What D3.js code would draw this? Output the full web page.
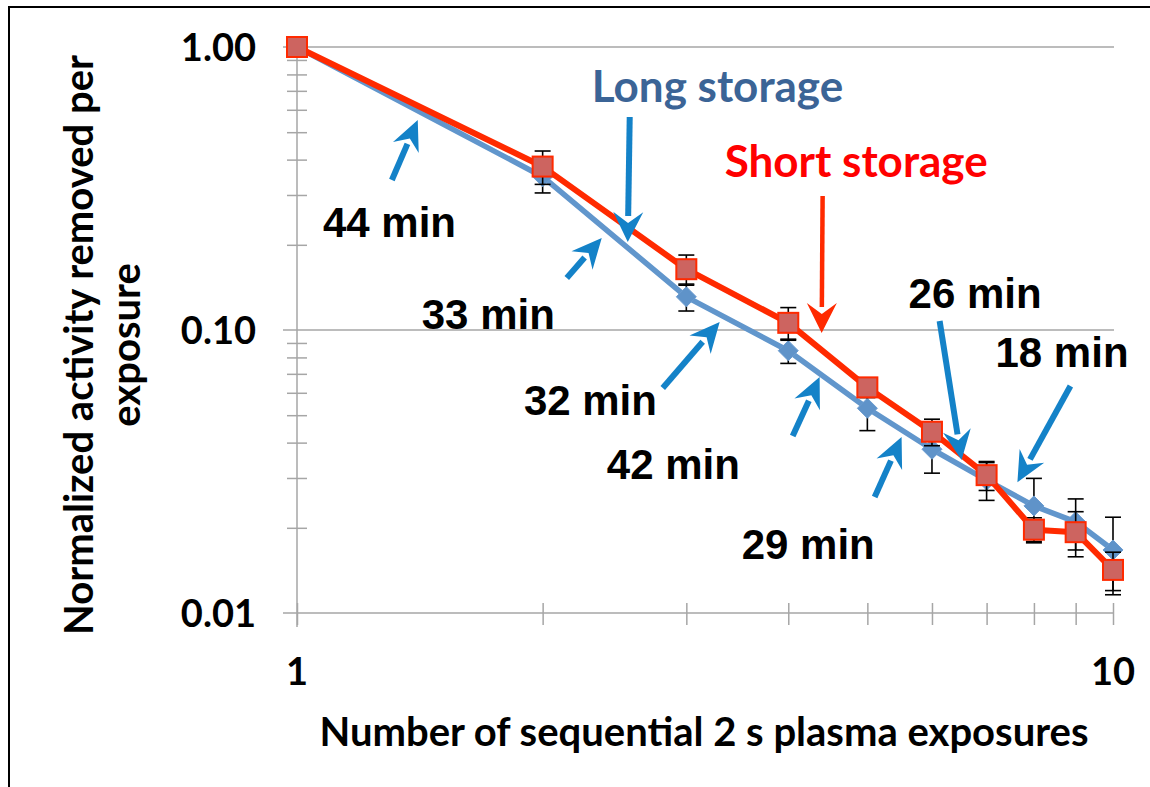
<!DOCTYPE html>
<html>
<head>
<meta charset="utf-8">
<script src="https://cdn.jsdelivr.net/npm/d3@7"></script>
<style>
  html, body { margin: 0; padding: 0; background: #fff; }
  svg { display: block; }
  .tick-lbl, .axis-title { font-family: Lato, "Open Sans", sans-serif; font-weight: 700; fill: #000; }
  .note { font-family: "Liberation Sans", Arial, sans-serif; font-weight: 700; font-size: 42px; fill: #000; }
  .series-lbl { font-family: Lato, "Open Sans", sans-serif; font-weight: 700; font-size: 44px; }
</style>
</head>
<body>
<div id="chart"></div>
<script>
// data
const exposures = [1, 2, 3, 4, 5, 6, 7, 8, 9, 10];
const shortStorage = [1.00, 0.378, 0.164, 0.106, 0.0627, 0.0437, 0.0307, 0.0197, 0.0193, 0.0142];
const shortErr = [0, 0.051, 0.020, 0.014, 0.005, 0.0047, 0.0036, 0.0020, 0.0035, 0.0022];
const longStorage = [1.00, 0.348, 0.131, 0.0845, 0.0529, 0.0379, 0.0295, 0.0239, 0.0210, 0.0167];
const longErr = [0, 0.043, 0.0143, 0.0083, 0.0088, 0.0067, 0.0045, 0.0060, 0.0043, 0.0051];

const yTickLabels = [[1, "1.00"], [0.1, "0.10"], [0.01, "0.01"]];
const xTickLabels = [[1, "1"], [10, "10"]];

// storage-time notes: arrow tail, arrow head, label anchor (data units)
const notes = [
  { text: "44 min", tail: [1.307, 0.339], head: [1.406, 0.552], at: [1.076, 0.213] },
  { text: "33 min", tail: [2.141, 0.1527], head: [2.363, 0.2114], at: [1.422, 0.1008] },
  { text: "32 min", tail: [2.807, 0.0624], head: [3.296, 0.1067], at: [1.897, 0.0501] },
  { text: "42 min", tail: [4.050, 0.0422], head: [4.370, 0.0682], at: [2.397, 0.02976] },
  { text: "29 min", tail: [5.104, 0.0257], head: [5.507, 0.0419], at: [3.507, 0.01551] },
  { text: "26 min", tail: [6.131, 0.1076], head: [6.523, 0.0347], at: [5.616, 0.1196] },
  { text: "18 min", tail: [8.868, 0.0634], head: [7.636, 0.0290], at: [7.178, 0.074] }
];
const seriesNotes = [
  { text: "Long storage", color: "#3b6496", arrow: "#1482c8", tail: [2.557, 0.566], head: [2.543, 0.2046], at: [2.298, 0.639] },
  { text: "Short storage", color: "#ff0000", arrow: "#ff2a00", tail: [4.407, 0.2976], head: [4.395, 0.0976], at: [3.343, 0.347] }
];

const W = 1150, H = 787;
const svg = d3.select("#chart").append("svg").attr("width", W).attr("height", H);

const x = d3.scaleLog().domain([1, 10]).range([297, 1113]);
const y = d3.scaleLog().domain([0.01, 1]).range([613, 47]);

// outer frame (runs off right and bottom)
svg.append("path").attr("d", `M9,${H + 5}V7H${W + 5}`)
  .attr("fill", "none").attr("stroke", "#000").attr("stroke-width", 2);

// gridlines
svg.append("g").selectAll("line").data([1, 0.1]).join("line")
  .attr("x1", 283).attr("x2", x(10) + 1)
  .attr("y1", d => y(d)).attr("y2", d => y(d))
  .attr("stroke", "#a6a6a6").attr("stroke-width", 1.5);

// x axis, ticks cross the line
const xAxis = svg.append("g").attr("transform", `translate(0,${y(0.01)})`)
  .call(d3.axisBottom(x).tickValues(exposures).tickSize(12).tickFormat(""));
xAxis.select(".domain").attr("stroke", "#a6a6a6").attr("stroke-width", 1.5).attr("d", `M283,0H${x(10)}`);
xAxis.selectAll(".tick line").attr("y1", -10).attr("stroke", "#a6a6a6").attr("stroke-width", 1.5);

// y axis
const yMinor = [];
[0.01, 0.1].forEach(b => { for (let k = 2; k <= 9; k++) yMinor.push(b * k); });
const yAxis = svg.append("g").attr("transform", `translate(${x(1)},0)`)
  .call(d3.axisLeft(y).tickValues(yMinor).tickSize(10).tickFormat(""));
yAxis.select(".domain").attr("stroke", "#a6a6a6").attr("stroke-width", 1.5).attr("d", `M0,${y(1)}V${y(0.01) + 14}`);
yAxis.selectAll(".tick line").attr("x1", 10).attr("stroke", "#a6a6a6").attr("stroke-width", 1.5);

svg.append("g").selectAll("text").data(yTickLabels).join("text")
  .attr("class", "tick-lbl").attr("font-size", 38)
  .attr("x", 256).attr("y", d => y(d[0])).attr("dy", "0.36em")
  .attr("text-anchor", "end").text(d => d[1]);

svg.append("g").selectAll("text").data(xTickLabels).join("text")
  .attr("class", "tick-lbl").attr("font-size", 38)
  .attr("x", d => x(d[0])).attr("y", 685)
  .attr("text-anchor", "middle").text(d => d[1]);

// axis titles
svg.append("text").attr("class", "axis-title").attr("font-size", 40)
  .attr("x", 704).attr("y", 746).attr("text-anchor", "middle")
  .text("Number of sequential 2 s plasma exposures");

const yTitle = svg.append("text").attr("class", "axis-title").attr("font-size", 40)
  .attr("transform", "translate(93,345) rotate(-90)").attr("text-anchor", "middle");
yTitle.append("tspan").attr("x", 0).attr("y", 0).text("Normalized activity removed per");
yTitle.append("tspan").attr("x", 0).attr("y", 47).text("exposure");

// series
function drawSeries(vals, errs, color, lineW) {
  const pts = exposures.map((e, i) => ({ e, v: vals[i], err: errs[i] }));
  const g = svg.append("g");
  const eb = g.append("g").attr("stroke", "#000").attr("stroke-width", 1.6);
  pts.filter(d => d.err > 0).forEach(d => {
    const cx = x(d.e), t = y(d.v + d.err), b = y(d.v - d.err);
    eb.append("line").attr("x1", cx).attr("x2", cx).attr("y1", t).attr("y2", b);
    eb.append("line").attr("x1", cx - 8).attr("x2", cx + 8).attr("y1", t).attr("y2", t);
    eb.append("line").attr("x1", cx - 8).attr("x2", cx + 8).attr("y1", b).attr("y2", b);
  });
  g.append("path").datum(pts)
    .attr("fill", "none").attr("stroke", color).attr("stroke-width", lineW)
    .attr("stroke-linejoin", "round")
    .attr("d", d3.line().x(d => x(d.e)).y(d => y(d.v)));
  return { g, pts };
}

const longS = drawSeries(longStorage, longErr, "#6196cc", 5.5);
longS.g.append("g").selectAll("path").data(longS.pts).join("path")
  .attr("transform", d => `translate(${x(d.e)},${y(d.v)})`)
  .attr("d", "M0,-10L10,0L0,10L-10,0Z")
  .attr("fill", "#5f93c9").attr("stroke", "#6a9bd0").attr("stroke-width", 1);

const shortS = drawSeries(shortStorage, shortErr, "#ff2a00", 6);
shortS.g.append("g").selectAll("rect").data(shortS.pts).join("rect")
  .attr("x", d => x(d.e) - 10).attr("y", d => y(d.v) - 10)
  .attr("width", 20).attr("height", 20)
  .attr("fill", "#cd6460").attr("stroke", "#ff2a00").attr("stroke-width", 2);

// arrows
function arrow(tail, head, color, w, len, half, notch) {
  const x0 = x(tail[0]), y0 = y(tail[1]), x1 = x(head[0]), y1 = y(head[1]);
  const a = Math.atan2(y1 - y0, x1 - x0), c = Math.cos(a), s = Math.sin(a);
  const g = svg.append("g");
  g.append("line").attr("x1", x0).attr("y1", y0)
    .attr("x2", x1 - c * (len - 4)).attr("y2", y1 - s * (len - 4))
    .attr("stroke", color).attr("stroke-width", w);
  const p = [
    [x1, y1],
    [x1 - c * len - s * half, y1 - s * len + c * half],
    [x1 - c * (len - notch), y1 - s * (len - notch)],
    [x1 - c * len + s * half, y1 - s * len - c * half]
  ];
  g.append("path").attr("d", "M" + p.map(q => q.join(",")).join("L") + "Z").attr("fill", color);
}

notes.forEach(n => {
  arrow(n.tail, n.head, "#1482c8", 6, 30, 14, 10);
  svg.append("text").attr("class", "note").attr("x", x(n.at[0])).attr("y", y(n.at[1])).text(n.text);
});

seriesNotes.forEach(n => {
  arrow(n.tail, n.head, n.arrow, n.text[0] === "L" ? 6 : 4.5, 30, 15, 11);
  svg.append("text").attr("class", "series-lbl").attr("fill", n.color)
    .attr("x", x(n.at[0])).attr("y", y(n.at[1])).text(n.text);
});
</script>
</body>
</html>
